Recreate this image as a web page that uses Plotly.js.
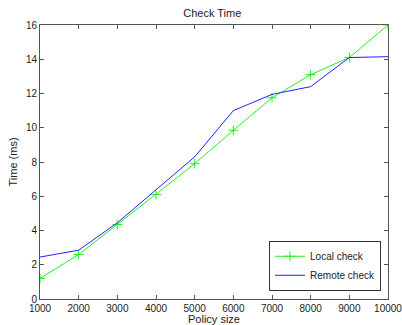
<!DOCTYPE html>
<html><head><meta charset="utf-8">
<script src="https://cdn.plot.ly/plotly-3.0.1.min.js"></script>
<style>body{margin:0;background:#fff}#c{width:402px;height:325px}</style>
</head><body><div id="c"></div>
<script>
var policySize = [1000,2000,3000,4000,5000,6000,7000,8000,9000,10000];
var localCheck = [1.2,2.6,4.35,6.1,7.9,9.85,11.75,13.1,14.1,16.0];
var remoteCheck = [2.45,2.85,4.45,6.4,8.3,11.0,11.95,12.4,14.1,14.15];
var xTicks = [1000,2000,3000,4000,5000,6000,7000,8000,9000,10000];
var yTicks = [0,2,4,6,8,10,12,14,16];

var traces = [
  {x: policySize, y: localCheck, name: 'Local check', mode: 'lines+markers',
   line: {color: '#22ee22', width: 1}, marker: {symbol: 'cross-thin', size: 7, line: {color: '#22ee22', width: 1}}},
  {x: policySize, y: remoteCheck, name: 'Remote check', mode: 'lines',
   line: {color: '#2222ff', width: 1}}
];
var ax = {showgrid: false, zeroline: false, ticks: 'inside', ticklen: 4, mirror: 'ticks',
  showline: true, linecolor: '#555', linewidth: 1, tickcolor: '#555', automargin: false,
  ticklabeloverflow: 'allow',
  tickfont: {family: 'Liberation Sans, Arial', size: 10, color: '#222'}};
var layout = {
  width: 402, height: 325, margin: {l: 40, r: 14, t: 25, b: 26},
  paper_bgcolor: '#fff', plot_bgcolor: '#fff',
  font: {family: 'Liberation Sans, Arial', size: 11, color: '#222'},
  title: {text: 'Check Time', font: {size: 11}, x: 0.528, xanchor: 'center', y: 0.97, yanchor: 'top'},
  xaxis: Object.assign({}, ax, {range: [1000, 10000], tickvals: xTicks, ticktext: xTicks.map(String),
    title: {text: 'Policy size', standoff: 3, font: {size: 11}}}),
  yaxis: Object.assign({}, ax, {range: [0, 16], tickvals: yTicks,
    title: {text: 'Time (ms)', standoff: 6, font: {size: 11}}}),
  showlegend: true,
  legend: {x: 0.98, y: 0.03, xanchor: 'right', yanchor: 'bottom', bgcolor: '#fff',
    bordercolor: '#333', borderwidth: 1, font: {size: 10}, tracegroupgap: 0, itemwidth: 30}
};
Plotly.newPlot('c', traces, layout, {displayModeBar: false});
</script></body></html>
